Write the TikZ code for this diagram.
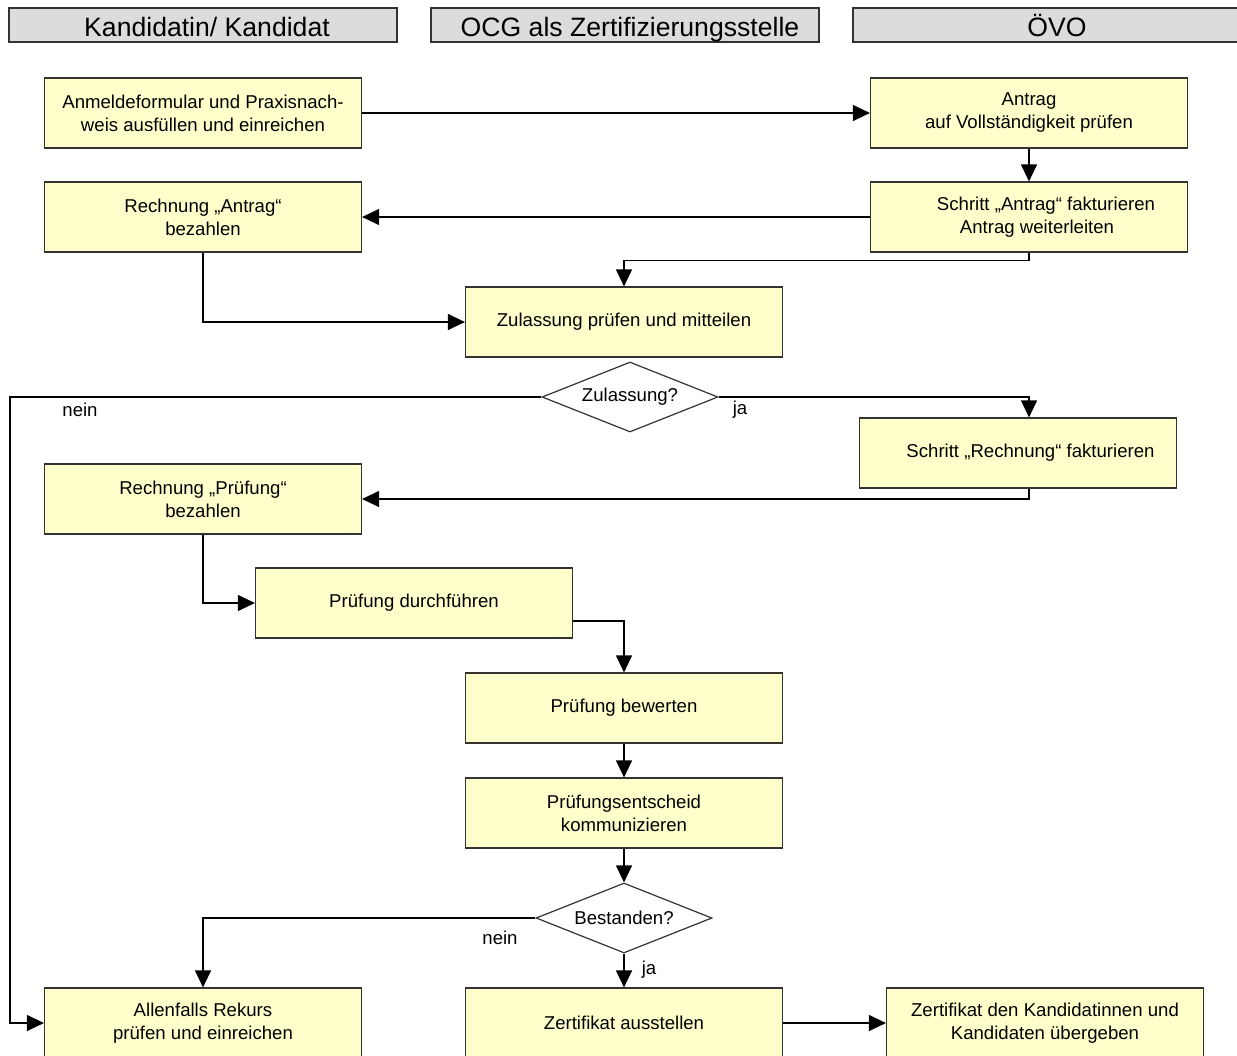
\documentclass[tikz,border=0pt]{standalone}
\usepackage{fontspec}
\setmainfont{Liberation Sans}
\usetikzlibrary{arrows.meta,shapes.geometric}
\definecolor{kopfgrau}{HTML}{DCDCDC}
\definecolor{kastengelb}{HTML}{FFFFCC}
\definecolor{rand}{HTML}{333333}
\begin{document}
\begin{tikzpicture}[x=1pt, y=-1pt, line width=1.2pt,
  kopf/.style={draw=rand, fill=kopfgrau, rectangle, minimum width=388pt, minimum height=34pt, inner ysep=0pt, text height=22pt, text depth=0pt, font=\fontsize{26.6}{30}\selectfont},
  kasten/.style={draw=rand, fill=kastengelb, rectangle, minimum width=317pt, minimum height=70pt, align=center, font=\fontsize{18.6}{23}\selectfont},
  frage/.style={draw=rand, fill=white, diamond, aspect=2.5, minimum width=176pt, minimum height=70pt, inner sep=0pt, font=\fontsize{18.6}{23}\selectfont},
  marke/.style={font=\fontsize{18.6}{23}\selectfont},
  >={Triangle[length=17pt, width=16pt]}]
\clip (0,0) rectangle (1237,1055);
% Spalten
\node[kopf] (kand) at (203,25) {\hspace*{8pt}Kandidatin/ Kandidat};
\node[kopf] (ocg) at (625,25) {\hspace*{10pt}OCG als Zertifizierungsstelle};
\node[kopf, minimum width=408pt] (oevo) at (1057,25) {ÖVO};
% Schritte
\node[kasten] (anmeldung) at (203,113) {Anmeldeformular und Praxisnach-\\weis ausfüllen und einreichen};
\node[kasten] (antrag) at (1029,113) {Antrag\\auf Vollständigkeit prüfen};
\node[kasten] (schrittA) at (1029,217) {\hspace*{34pt}Schritt „Antrag“ fakturieren\\\hspace*{16pt}Antrag weiterleiten};
\node[kasten] (rechnungA) at (203,217) {Rechnung „Antrag“\\bezahlen};
\node[kasten] (zulassung) at (624,322) {Zulassung prüfen und mitteilen};
\node[frage] (zulfrage) at (630,397) {Zulassung?};
\node[kasten] (schrittR) at (1018,453) {\hspace*{25pt}Schritt „Rechnung“ fakturieren};
\node[kasten] (rechnungP) at (203,499) {Rechnung „Prüfung“\\bezahlen};
\node[kasten] (pruefung) at (414,603) {Prüfung durchführen};
\node[kasten] (bewerten) at (624,708) {Prüfung bewerten};
\node[kasten] (entscheid) at (624,813) {Prüfungsentscheid\\kommunizieren};
\node[frage] (bestanden) at (624,918) {Bestanden?};
\node[kasten] (rekurs) at (203,1023) {Allenfalls Rekurs\\prüfen und einreichen};
\node[kasten] (zertifikat) at (624,1023) {Zertifikat ausstellen};
\node[kasten] (uebergabe) at (1045,1023) {Zertifikat den Kandidatinnen und\\Kandidaten übergeben};
% Beschriftungen
\node[marke] (nein1) at (80,410) {nein};
\node[marke] (ja1) at (740,410) {ja};
\node[marke] (nein2) at (500,938) {nein};
\node[marke] (ja2) at (649,970) {ja};
\coordinate (links) at (10,397);
% Pfeile
\draw[->] (anmeldung) -- (antrag);
\draw[->] (antrag) -- (schrittA);
\draw[->] (schrittA) -- (rechnungA);
\draw[->] (schrittA.south) -- ++(0,8) -| (zulassung.north);
\draw[->] (rechnungA.south) |- (zulassung.west);
\draw[->] (zulfrage.west) -- (links) |- (rekurs.west);
\draw[->] (zulfrage.east) -| ([xshift=11pt]schrittR.north);
\draw[->] ([xshift=11pt]schrittR.south) |- (rechnungP.east);
\draw[->] (rechnungP.south) |- (pruefung.west);
\draw[->] ([yshift=-18pt]pruefung.east) -| (bewerten.north);
\draw[->] (bewerten) -- (entscheid);
\draw[->] (entscheid) -- (bestanden);
\draw[->] (bestanden.west) -| (rekurs.north);
\draw[->] (bestanden) -- (zertifikat);
\draw[->] (zertifikat) -- (uebergabe);
\end{tikzpicture}
\end{document}
